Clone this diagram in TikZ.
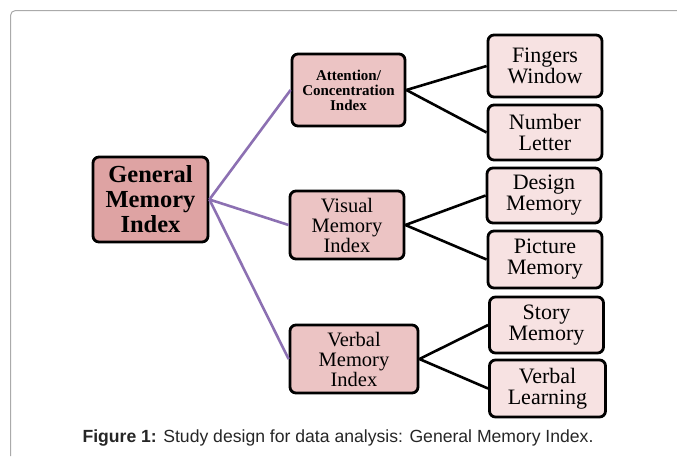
\documentclass[tikz,border=0pt]{standalone}
\usepackage{fontspec}
\setmainfont{Liberation Serif}
\newfontfamily\capfont{Liberation Sans}
\usepackage{xcolor}
\usepackage{tikz}

\definecolor{topfill}{RGB}{222,163,163}
\definecolor{midfill}{RGB}{236,196,196}
\definecolor{leaffill}{RGB}{247,226,226}
\definecolor{linkpurple}{RGB}{140,112,178}
\definecolor{framegray}{RGB}{170,170,170}

\begin{document}
\begin{tikzpicture}[x=1pt, y=-1pt,
  box/.style={draw, line width=2.8pt, rounded corners=6pt, align=center, inner sep=1pt},
  topbox/.style={box, fill=topfill, font=\bfseries\fontsize{24.5}{25}\selectfont},
  midbox/.style={box, fill=midfill, font=\fontsize{20.5}{20}\selectfont},
  leafbox/.style={box, fill=leaffill, minimum width=114pt, font=\fontsize{22}{21}\selectfont},
  purplelink/.style={linkpurple, line width=2.6pt},
  blacklink/.style={black, line width=2.6pt}]
\useasboundingbox (0,0) rectangle (677,456);

% Frame
\draw[framegray, line width=1pt, rounded corners=5pt] (677,10.5) -- (10.5,10.5) -- (10.5,456);

% Root
\node[topbox, minimum width=115pt, minimum height=85pt] (gmi) at (150.5,199.5) {General\\Memory\\Index};

% Middle level
\node[midbox, minimum width=113pt, minimum height=72pt, font=\bfseries\fontsize{15}{15}\selectfont] (aci) at (348.5,90) {Attention/\\Concentration\\Index};
\node[midbox, minimum width=114pt, minimum height=68pt] (vmi) at (347,225) {Visual\\Memory\\Index};
\node[midbox, minimum width=128pt, minimum height=68pt] (bmi) at (354,359) {Verbal\\Memory\\Index};

% Leaves
\node[leafbox, minimum height=62pt] (fw) at (545,66) {Fingers\\Window};
\node[leafbox, minimum height=55pt] (nl) at (545,132.5) {Number\\Letter};
\node[leafbox, minimum height=55pt] (dm) at (544,195.5) {Design\\Memory};
\node[leafbox, minimum height=57pt] (pm) at (545,259.5) {Picture\\Memory};
\node[leafbox, minimum height=56pt] (sm) at (546.5,325) {Story\\Memory};
\node[leafbox, minimum height=57pt, minimum width=116pt] (vl) at (547.5,388.5) {Verbal\\Learning};

% Links from the root
\draw[purplelink] (gmi.east) -- (aci.west);
\draw[purplelink] (gmi.east) -- (vmi.west);
\draw[purplelink] (gmi.east) -- (bmi.west);

% Links to the leaves
\draw[blacklink] (aci.east) -- (fw.west);
\draw[blacklink] (aci.east) -- (nl.west);
\draw[blacklink] (vmi.east) -- (dm.west);
\draw[blacklink] (vmi.east) -- (pm.west);
\draw[blacklink] (bmi.east) -- (sm.west);
\draw[blacklink] (bmi.east) -- (vl.west);

% Caption
\node[font=\capfont\fontsize{17.6}{19}\selectfont, text=black!85] (cap) at (338,438)
  {\textbf{Figure 1:} Study design for data analysis: General Memory Index.};
\end{tikzpicture}
\end{document}
